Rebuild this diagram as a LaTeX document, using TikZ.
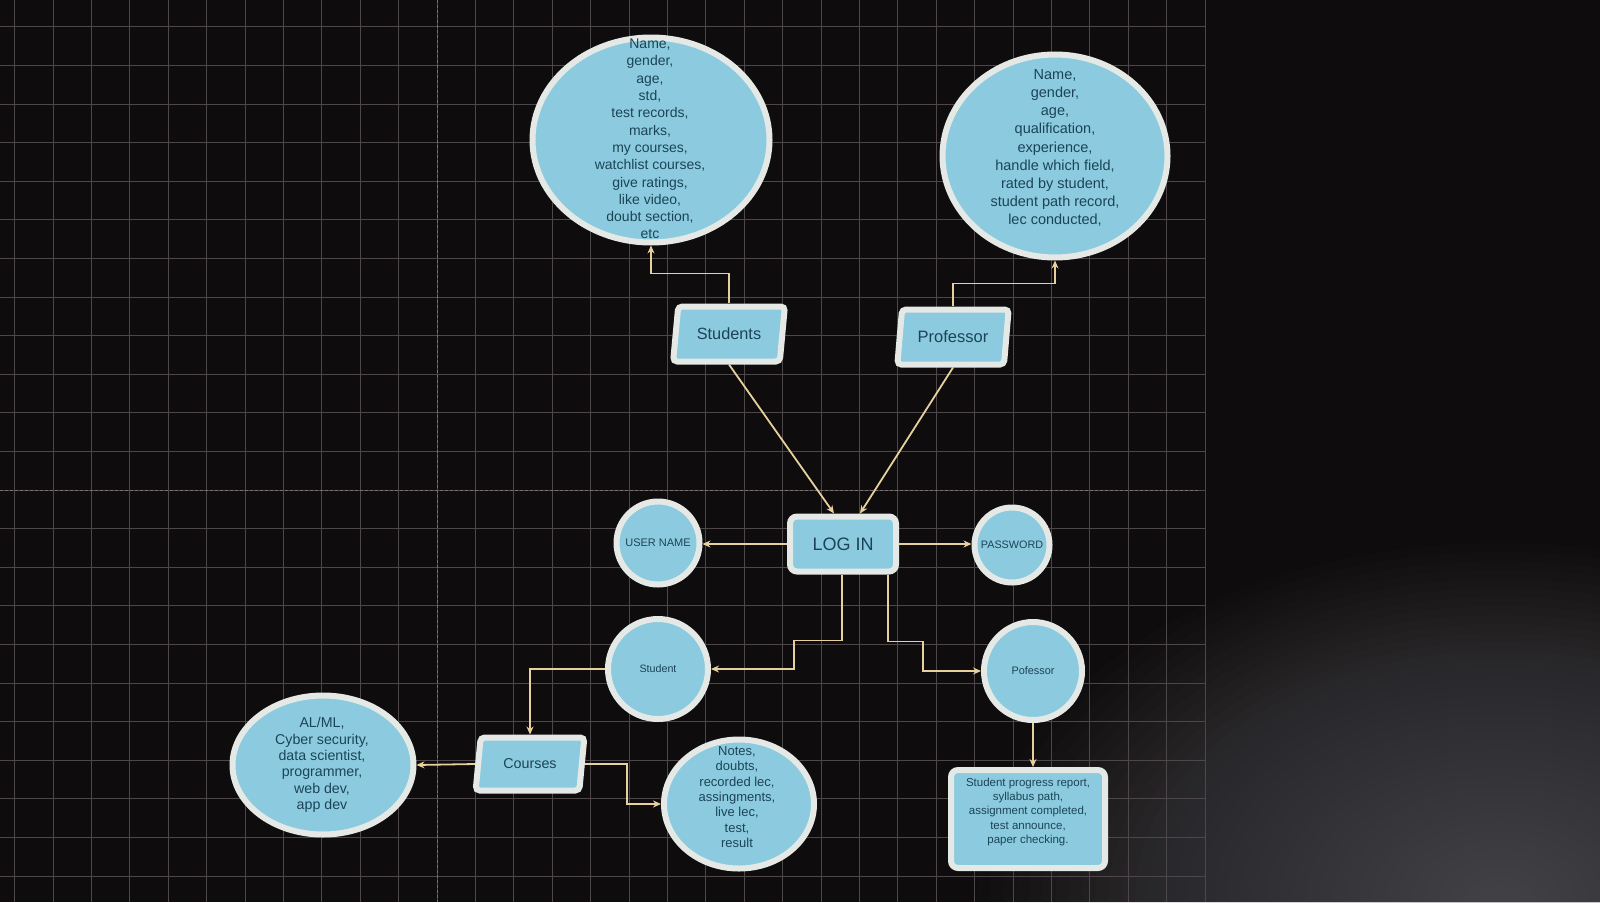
\documentclass[tikz,border=0pt]{standalone}
\usepackage{fontspec}
\setmainfont{Liberation Sans}
\usetikzlibrary{shapes.geometric,arrows.meta}
\definecolor{bg}{HTML}{0F0C0E}
\definecolor{gridc}{HTML}{4E4749}
\definecolor{gridmaj}{HTML}{7A7070}
\definecolor{fillb}{HTML}{8CCBDF}
\definecolor{rim}{HTML}{E4E9E6}
\definecolor{ink}{HTML}{1B4456}
\definecolor{wire}{HTML}{E6D09C}
\definecolor{hazeA}{HTML}{8A8A92}
\definecolor{hazeB}{HTML}{5A585E}
\begin{document}
\begin{tikzpicture}[x=1pt,y=-1pt,
  shp/.style={fill=fillb, draw=rim, line width=6pt},
  ell/.style={shp, ellipse, inner sep=0pt},
  circ/.style={shp, circle, inner sep=0pt, text=ink},
  para/.style={shp, trapezium, trapezium left angle=75, trapezium right angle=105,
    trapezium stretches=true, rounded corners=4pt, text=ink, inner sep=0pt},
  roundbox/.style={shp, rectangle, rounded corners=7pt, text=ink},
  txt/.style={text=ink, align=center, inner sep=0pt},
  conn/.style={draw=wire, line width=1.8pt, -{Stealth[length=8pt,width=7pt]}},
  gridline/.style={draw=gridc, line width=0.8pt},
  majline/.style={draw=gridmaj, line width=1pt, dash pattern=on 3pt off 2pt}]
\useasboundingbox (0,0) rectangle (1600,902);
\fill[bg] (0,0) rectangle (1600,902);
% soft haze on the right (many faint stacked discs)
\foreach \r in {20,30,...,330} \fill[hazeB, opacity=0.012] (1340,330) ellipse ({\r*0.9} and \r);
\foreach \r in {20,32,...,480} \fill[hazeA, opacity=0.018] (1500,900) ellipse ({\r*1.1} and {\r*0.75});
% grid
\foreach \i in {-11,...,20} \draw[gridline] ({437+38.4*\i},0) -- ({437+38.4*\i},902);
\foreach \j in {-12,...,10} \draw[gridline] (0,{490+38.6*\j}) -- (1205,{490+38.6*\j});
\draw[majline] (437,0) -- (437,902);
\draw[majline] (0,490) -- (1200,490);

% nodes
\node[ell, minimum width=237pt, minimum height=205pt] (sa) at (651,140) {};
\node[txt, font=\fontsize{14}{17.3}\selectfont] (sat) at (650,139) {Name,\\gender,\\age,\\std,\\test records,\\marks,\\my courses,\\watchlist courses,\\give ratings,\\like video,\\doubt section,\\etc};

\node[ell, minimum width=225pt, minimum height=203pt] (pa) at (1055,156) {};
\node[txt, font=\fontsize{14.5}{18.1}\selectfont] (pat) at (1055,148) {Name,\\gender,\\age,\\qualification,\\experience,\\handle which field,\\rated by student,\\student path record,\\lec conducted,};

\node[para, minimum width=112pt, minimum height=55pt, font=\fontsize{16.3}{19}\selectfont] (stu) at (729,334) {Students};
\node[para, minimum width=112pt, minimum height=55pt, font=\fontsize{16.5}{19}\selectfont] (prof) at (953,337) {Professor};

\node[roundbox, minimum width=106pt, minimum height=55pt, font=\fontsize{18}{21}\selectfont] (lg) at (843,544) {LOG IN};
\node[circ, minimum size=83pt, font=\fontsize{11}{13}\selectfont] (un) at (658,543) {USER NAME};
\node[circ, minimum size=75pt, font=\fontsize{10.8}{13}\selectfont] (pw) at (1012,545) {PASSWORD};
\node[circ, minimum size=100pt, font=\fontsize{10.7}{13}\selectfont] (stud) at (658,669) {Student};
\node[circ, minimum size=98pt, font=\fontsize{10.9}{13}\selectfont] (pof) at (1033,671) {Pofessor};

\node[para, minimum width=109pt, minimum height=53pt, font=\fontsize{14.3}{17}\selectfont] (crs) at (530,764) {Courses};
\node[ell, minimum width=181pt, minimum height=139pt] (al) at (323,765) {};
\node[txt, font=\fontsize{14.2}{16.3}\selectfont] (alt) at (322,765) {AL/ML,\\Cyber security,\\data scientist,\\programmer,\\web dev,\\app dev};
\node[ell, minimum width=150pt, minimum height=129pt] (nt) at (739,804) {};
\node[txt, font=\fontsize{13}{15.3}\selectfont] (ntt) at (737,797) {Notes,\\doubts,\\recorded lec,\\assingments,\\live lec,\\test,\\result};
\node[roundbox, minimum width=154pt, minimum height=98pt] (pr) at (1028,819) {};
\node[txt, font=\fontsize{11.5}{14.3}\selectfont] (prt) at (1028,812) {Student progress report,\\syllabus path,\\assignment completed,\\test announce,\\paper checking.};

% connectors
\draw[conn] (stu.north) -- ++(0,-30) -| (sa.south);
\draw[conn] (prof.north) -- ++(0,-23) -| (pa.south);
\draw[conn] (stu.south) -- ([xshift=-9pt]lg.north);
\draw[conn] (prof.south) -- ([xshift=17pt]lg.north);
\draw[conn] (lg.west) -- (lg.west -| un.east);
\draw[conn] (lg.east) -- (lg.east -| pw.west);
\draw[conn] ([xshift=-1pt]lg.south) -- ++(0,66) -- ++(-48,0) |- (stud.east);
\draw[conn] ([xshift=45pt]lg.south) -- ++(0,67) -- ++(35,0) |- (pof.west);
\draw[conn] (stud.west) -| (crs.north);
\draw[conn] (crs.west) -- (al.east);
\draw[conn] (crs.east) -- ++(42,0) |- (nt.west);
\draw[conn] (pof.south) -- (pof.south |- pr.north);
\end{tikzpicture}
\end{document}
